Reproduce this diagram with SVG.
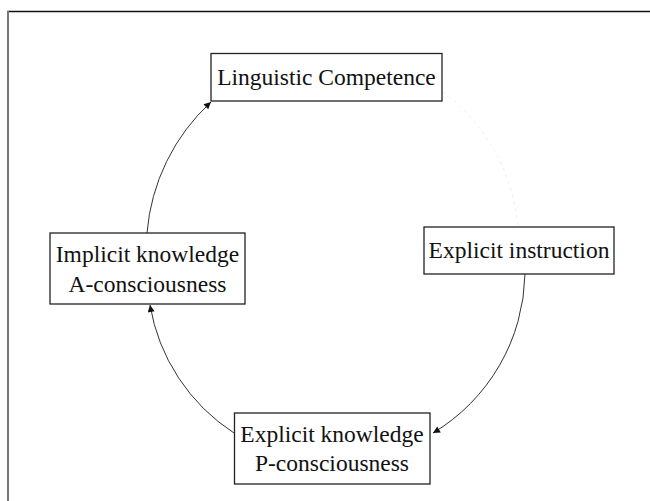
<svg xmlns="http://www.w3.org/2000/svg" width="650" height="501" viewBox="0 0 650 501">
<defs>
<style>
.box{fill:#fff;stroke:#222;stroke-width:1.3}
.lbl{font-family:"Liberation Serif","Times New Roman",serif;font-size:23.5px;fill:#111;text-anchor:middle}
.conn{fill:none;stroke:#333;stroke-width:1}
</style>
<marker id="ah" viewBox="0 0 10 10" refX="10" refY="5" markerWidth="9" markerHeight="7" markerUnits="userSpaceOnUse" orient="auto">
<path d="M0,0 L10,5 L0,10 z" fill="#111"/>
</marker>
</defs>
<rect x="0" y="0" width="650" height="501" fill="#fff"/>
<g id="frame">
<line x1="7" y1="11.5" x2="650" y2="11.5" stroke="#111" stroke-width="1.5"/>
<line x1="8" y1="11" x2="8" y2="501" stroke="#777" stroke-width="2"/>
</g>
<g id="connectors">
<path class="conn" d="M443,92 A190,190 0 0 1 518,226" stroke="#efefef" style="stroke:#f0f0f0;stroke-dasharray:3 4"/>
<path class="conn" d="M525,274 A190,190 0 0 1 433,433" marker-end="url(#ah)"/>
<path class="conn" d="M234,433 A190,190 0 0 1 150,305" marker-end="url(#ah)"/>
<path class="conn" d="M147,233 A200,200 0 0 1 211,102" marker-end="url(#ah)"/>
</g>
<g id="linguistic-competence">
<rect class="box" x="211" y="53.5" width="231" height="47.5"/>
<text class="lbl" x="326.5" y="85">Linguistic Competence</text>
</g>
<g id="implicit-knowledge">
<rect class="box" x="50" y="233" width="195" height="71"/>
<text class="lbl" x="147.5" y="262">Implicit knowledge</text>
<text class="lbl" x="147.5" y="292">A-consciousness</text>
</g>
<g id="explicit-instruction">
<rect class="box" x="424" y="227" width="190" height="47"/>
<text class="lbl" x="519" y="257.5">Explicit instruction</text>
</g>
<g id="explicit-knowledge">
<rect class="box" x="234.5" y="413" width="195.5" height="71"/>
<text class="lbl" x="332" y="442">Explicit knowledge</text>
<text class="lbl" x="332" y="471">P-consciousness</text>
</g>
</svg>
